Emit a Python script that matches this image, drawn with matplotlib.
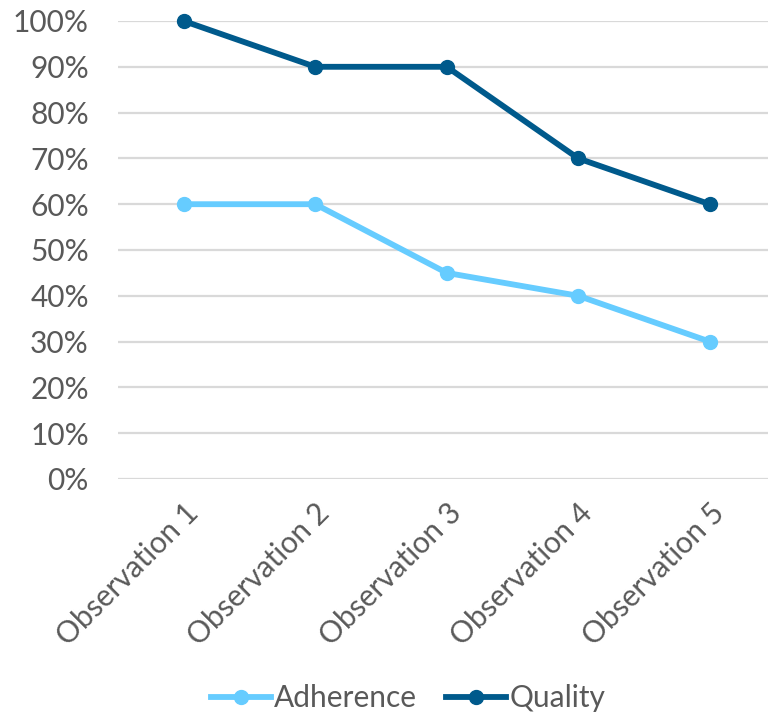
import matplotlib.pyplot as plt
from matplotlib.ticker import PercentFormatter

plt.rcParams['font.family'] = ['Lato', 'DejaVu Sans']

categories = ['Observation 1', 'Observation 2', 'Observation 3', 'Observation 4', 'Observation 5']
adherence = [0.60, 0.60, 0.45, 0.40, 0.30]
quality = [1.00, 0.90, 0.90, 0.70, 0.60]

light = '#66CCFF'
dark = '#005A8C'
grey = '#595959'

fig = plt.figure(figsize=(7.68, 7.14), dpi=100)
ax = fig.add_axes([118 / 768, (714 - 479) / 714, 657.5 / 768, 458 / 714])

x = range(len(categories))
ax.plot(x, adherence, color=light, lw=4.2, marker='o', ms=10, label='Adherence', clip_on=False, zorder=3)
ax.plot(x, quality, color=dark, lw=4.2, marker='o', ms=10, label='Quality', clip_on=False, zorder=3)

ax.set_xlim(-0.5, 4.5)
ax.set_ylim(0, 1)
ax.set_yticks([i / 10 for i in range(11)])
ax.yaxis.set_major_formatter(PercentFormatter(1.0, decimals=0))
ax.grid(axis='y', color='#D9D9D9', lw=1.6)
ax.set_axisbelow(True)
for s in ax.spines.values():
    s.set_visible(False)
ax.tick_params(length=0, colors=grey, labelsize=21.5)
ax.tick_params(axis='y', pad=21)
ax.set_xticks(list(x))
ax.set_xticklabels(categories, rotation=45, ha='right', rotation_mode='anchor')
ax.tick_params(axis='x', pad=14)

fig.legend(loc='lower center', bbox_to_anchor=(408 / 768, -0.035), ncol=2, frameon=False,
           fontsize=21.5, labelcolor=grey, handlelength=2.0, handletextpad=0.1, columnspacing=1.0)

fig.savefig('out.png', dpi=100)
